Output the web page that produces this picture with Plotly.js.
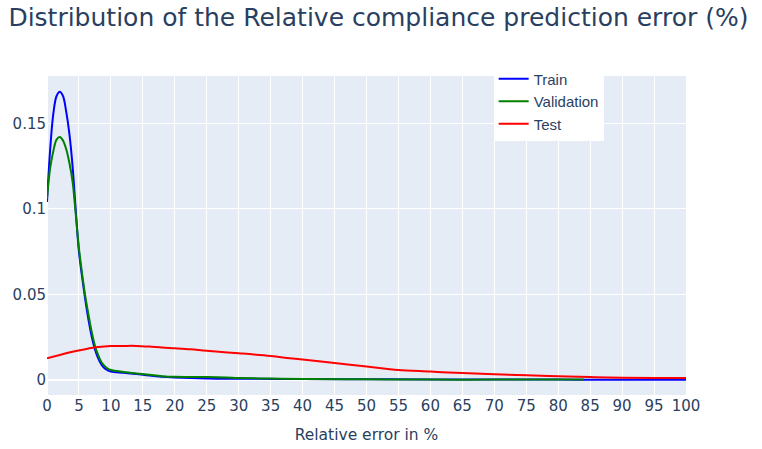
<!DOCTYPE html>
<html>
<head>
<meta charset="utf-8">
<script src="https://cdn.plot.ly/plotly-3.0.1.min.js"></script>
<style>html,body{margin:0;padding:0;background:#fff}#chart{width:762px;height:449px}</style>
</head>
<body>
<div id="chart"></div>
<script>
const trainX = [0,0.5,1,1.5,2,2.5,3,3.5,4,4.5,5,5.5,6,6.5,7,7.5,8,8.5,9,9.5,10,12,14,16,18,20,25,30,40,50,60,70,80,90,100];
const trainY = [0.104,0.135,0.156,0.166,0.1685,0.166,0.157,0.144,0.125,0.099,0.075,0.060,0.0467,0.035,0.0253,0.018,0.0127,0.009,0.0068,0.0056,0.0049,0.0042,0.0035,0.0026,0.0019,0.0015,0.0009,0.0007,0.0005,0.0004,0.0003,0.0003,0.0002,0.0001,0.0001];

const valX = [0,0.5,1,1.5,2,2.5,3,3.5,4,4.5,5,5.5,6,6.5,7,7.5,8,8.5,9,9.5,10,12,14,16,18,20,22,25,28,30,35,40,50,60,70,80,84];
const valY = [0.106,0.124,0.134,0.1405,0.1421,0.140,0.135,0.127,0.116,0.097,0.077,0.062,0.0487,0.038,0.028,0.020,0.0146,0.0105,0.0082,0.0066,0.0058,0.0047,0.0038,0.003,0.0022,0.0018,0.0017,0.0017,0.0015,0.0012,0.0008,0.0006,0.0004,0.0002,0.0002,0.0002,0.0002];

const testX = [0,2,4,6,8,10,12,14,16,18,20,22.5,25,30,35,38,40,45,50,53,55,60,65,70,75,80,85,90,95,100];
const testY = [0.0127,0.0146,0.0165,0.0180,0.0192,0.0198,0.0199,0.0199,0.0195,0.0189,0.0185,0.0179,0.0170,0.0156,0.0140,0.0127,0.0119,0.0099,0.0078,0.0066,0.0058,0.0049,0.0040,0.0033,0.0027,0.0022,0.0017,0.0013,0.0012,0.0012];

const seriesNames = ['Train','Validation','Test'];
const seriesColors = ['blue','green','red'];
const xTickVals = [0,5,10,15,20,25,30,35,40,45,50,55,60,65,70,75,80,85,90,95,100];
const yTickVals = [0,0.05,0.1,0.15];
const yTickText = ['0','0.05','0.1','0.15'];

const xs = [trainX, valX, testX];
const ys = [trainY, valY, testY];
const traces = xs.map((x,i)=>({
  x: x, y: ys[i], type:'scatter', mode:'lines', name: seriesNames[i],
  line:{color: seriesColors[i], width:2, shape:'spline', smoothing:1}
}));

const mainFont = '"DejaVu Sans", sans-serif';
const layout = {
  width:762, height:449,
  font:{family:mainFont, color:'#2a3f5f', size:15},
  paper_bgcolor:'#fff', plot_bgcolor:'#E5ECF6',
  margin:{l:46.5, r:75.5, t:75.5, b:54, pad:0},
  title:{text:'Distribution of the Relative compliance prediction error (%)', x:0.011, xanchor:'left', xref:'container', y:0.962, yanchor:'middle', yref:'container', font:{size:25, family:mainFont}},
  xaxis:{range:[0,100], tickvals:xTickVals, ticktext:xTickVals.map(String), gridcolor:'white', zerolinecolor:'white', zerolinewidth:2, tickfont:{size:15}, title:{text:'Relative error in %', font:{size:15.5}, standoff:15}, automargin:false},
  yaxis:{range:[-0.0088,0.1777], tickvals:yTickVals, ticktext:yTickText, gridcolor:'white', zerolinecolor:'white', zerolinewidth:2, tickfont:{size:15}, automargin:false},
  legend:{x:0.699, y:1.042, xanchor:'left', yanchor:'top', bgcolor:'white', font:{size:15, family:'Arial, "Liberation Sans", sans-serif'}},
  showlegend:true
};
Plotly.newPlot('chart', traces, layout, {displayModeBar:false, staticPlot:true});
</script>
</body>
</html>
